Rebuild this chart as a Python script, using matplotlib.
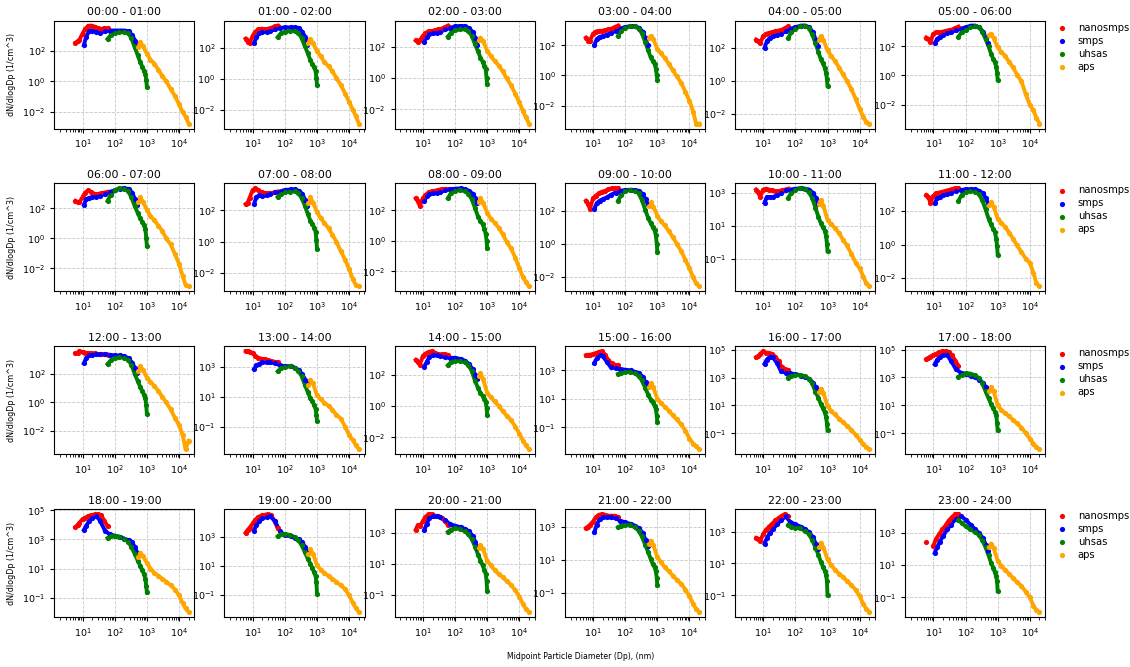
import numpy as np
import matplotlib
matplotlib.use("Agg")
import matplotlib.pyplot as plt
from matplotlib.ticker import NullLocator, LogLocator

nan = np.nan

hours = ["{:02d}:00 - {:02d}:00".format(h, h + 1) for h in range(24)]
instruments = ["nanosmps", "smps", "uhsas", "aps"]
colors = ["red", "blue", "green", "orange"]

# diameters (nm) of the points
nano_dp = [6, 7, 8, 10, 12, 15, 19, 24, 30, 38, 48, 60]
smps_dp = [11, 13, 16, 20, 27, 35, 50, 70, 100, 150, 200, 270, 350, 430, 500]
uhsas_dp = [60, 75, 100, 140, 200, 260, 330, 420, 520, 620, 720, 820, 900, 960, 1000]
aps_dp = [540, 620, 750, 1000, 1300, 1700, 2300, 3000, 4000, 5500, 7500, 10000, 13000, 16000, 20000]

# log10 of dN/dlogDp, one row per hour
nano_log = [
    [2.5, 2.6, 2.7, 3.1, 3.4, 3.6, 3.62, 3.55, 3.45, 3.4, 3.45, 3.45],
    [2.6, 2.4, 2.3, 2.8, 3.05, 3.2, 3.25, 3.2, 3.25, 3.3, 3.4, 3.45],
    [2.4, 2.3, 2.4, 2.7, 2.85, 3.0, 3.0, 3.05, 3.1, 3.15, 3.25, 3.35],
    [2.5, 2.3, 2.3, 2.75, 2.9, 2.95, 2.95, 3.0, 3.05, 3.1, 3.2, 3.3],
    [2.5, 2.4, 2.3, 2.7, 2.85, 2.9, 2.95, 3.0, 3.05, 3.1, 3.2, 3.3],
    [2.6, 2.5, 2.3, 2.85, 2.95, 2.95, 3.0, 3.05, 3.1, 3.15, 3.25, 3.35],
    [2.5, 2.4, 2.4, 2.75, 3.05, 3.2, 3.1, 2.95, 2.95, 3.0, 3.05, 3.1],
    [2.4, 2.5, 2.8, 3.3, 3.4, 3.3, 3.15, 3.1, 3.1, 3.1, 3.15, 3.2],
    [2.8, 2.6, 2.3, 2.8, 3.0, 3.2, 3.25, 3.3, 3.35, 3.4, 3.4, 3.4],
    [2.6, 2.4, 2.1, 2.75, 2.9, 3.05, 3.15, 3.2, 3.3, 3.35, 3.35, 3.35],
    [3.2, 3.05, 2.75, 3.2, 3.25, 3.2, 3.15, 3.1, 3.1, 3.15, 3.2, 3.25],
    [2.95, 2.85, 2.5, 2.9, 3.05, 3.1, 3.15, 3.2, 3.25, 3.3, 3.35, 3.35],
    [3.45, 3.5, 3.6, 3.55, 3.5, 3.45, 3.45, 3.45, 3.4, 3.4, 3.4, 3.35],
    [4.05, 4.05, 4.0, 3.9, 3.75, 3.6, 3.55, 3.5, 3.45, 3.4, 3.35, 3.3],
    [2.95, 2.8, 2.65, 3.2, 3.35, 3.45, 3.5, 3.4, 3.3, 3.3, 3.3, 3.25],
    [4.05, 4.1, 4.1, 4.15, 4.2, 4.3, 4.35, 4.1, 3.7, 3.5, 3.4, 3.35],
    [4.45, 4.55, 4.7, 4.9, 4.8, 4.75, 4.7, 4.5, 4.2, 3.75, 3.6, 3.55],
    [4.3, 4.4, 4.5, 4.6, 4.7, 4.8, 4.88, 4.88, 4.8, 4.6, 4.2, 3.85],
    [3.85, 4.0, 4.15, 4.4, 4.5, 4.6, 4.68, 4.72, 4.75, 4.65, 4.3, 3.9],
    [3.3, 3.5, 3.65, 3.95, 4.2, 4.4, 4.5, 4.55, 4.6, 4.5, 4.1, 3.6],
    [3.2, 3.5, 3.4, 3.75, 4.0, 4.2, 4.2, 4.1, 4.05, 3.95, 3.75, 3.5],
    [2.9, 3.0, 3.1, 3.3, 3.55, 3.7, 3.75, 3.7, 3.65, 3.65, 3.65, 3.55],
    [2.6, 2.55, 2.4, 2.85, 3.1, 3.3, 3.5, 3.7, 3.85, 4.0, 4.1, 3.95],
    [2.45, nan, nan, 2.2, 2.6, 2.9, 3.2, 3.45, 3.75, 3.95, 4.15, 4.15],
]

smps_log = [
    [2.35, 2.9, 3.25, 3.3, 3.2, 3.15, 3.25, 3.3, 3.3, 3.3, 3.3, 3.25, 3.0, 2.65, 2.2],
    [2.3, 2.7, 2.95, 3.05, 3.05, 3.1, 3.2, 3.3, 3.33, 3.33, 3.33, 3.3, 3.05, 2.7, 2.2],
    [2.3, 2.65, 2.8, 2.85, 2.9, 2.95, 3.1, 3.2, 3.3, 3.33, 3.3, 3.2, 2.95, 2.55, 2.1],
    [2.0, 2.4, 2.55, 2.6, 2.7, 2.8, 2.95, 3.1, 3.2, 3.27, 3.25, 3.15, 2.9, 2.45, 2.0],
    [2.0, 2.4, 2.6, 2.7, 2.8, 2.85, 3.0, 3.15, 3.25, 3.35, 3.35, 3.25, 2.95, 2.5, 2.1],
    [2.2, 2.5, 2.65, 2.8, 2.9, 2.95, 3.1, 3.2, 3.3, 3.42, 3.42, 3.3, 3.0, 2.6, 2.2],
    [2.25, 2.6, 2.7, 2.75, 2.78, 2.85, 2.95, 3.1, 3.2, 3.32, 3.33, 3.3, 3.05, 2.6, 2.2],
    [2.4, 2.85, 2.95, 2.9, 2.95, 3.05, 3.15, 3.2, 3.3, 3.33, 3.33, 3.25, 3.05, 2.65, 2.3],
    [2.6, 2.95, 3.05, 3.15, 3.15, 3.2, 3.33, 3.4, 3.43, 3.45, 3.4, 3.3, 3.1, 2.8, 2.5],
    [2.1, 2.45, 2.6, 2.7, 2.8, 2.95, 3.1, 3.2, 3.25, 3.27, 3.25, 3.2, 3.0, 2.7, 2.4],
    [2.4, 2.75, 2.75, 2.75, 2.85, 3.0, 3.15, 3.2, 3.25, 3.27, 3.25, 3.2, 3.0, 2.7, 2.35],
    [2.45, 2.75, 2.85, 2.95, 3.0, 3.1, 3.2, 3.25, 3.3, 3.3, 3.3, 3.2, 3.05, 2.75, 2.45],
    [2.75, 3.1, 3.3, 3.35, 3.4, 3.4, 3.4, 3.35, 3.3, 3.3, 3.25, 3.1, 2.8, 2.4, 2.1],
    [2.85, 3.1, 3.2, 3.3, 3.3, 3.3, 3.25, 3.1, 3.05, 3.05, 2.95, 2.8, 2.5, 2.15, 1.9],
    [2.5, 2.8, 3.15, 3.25, 3.25, 3.2, 3.1, 3.08, 3.08, 3.0, 2.9, 2.7, 2.35, 2.0, 1.7],
    [3.5, 3.85, 4.05, 4.0, 3.6, 3.25, 3.15, 3.1, 3.05, 3.0, 2.9, 2.8, 2.55, 2.15, 1.85],
    [4.0, 4.3, 4.5, 4.45, 4.05, 3.5, 3.35, 3.3, 3.25, 3.15, 3.05, 2.9, 2.65, 2.3, 1.95],
    [3.95, 4.25, 4.5, 4.62, 4.6, 4.2, 3.6, 3.35, 3.25, 3.1, 3.0, 2.85, 2.6, 2.3, 2.0],
    [3.65, 3.95, 4.25, 4.45, 4.6, 4.3, 3.6, 3.35, 3.25, 3.15, 3.05, 2.95, 2.8, 2.45, 2.1],
    [3.45, 3.85, 4.1, 4.3, 4.4, 4.45, 4.1, 3.4, 3.15, 3.05, 2.95, 2.85, 2.65, 2.3, 1.95],
    [3.15, 3.55, 3.95, 4.05, 4.05, 4.0, 3.8, 3.55, 3.45, 3.35, 3.25, 3.1, 2.8, 2.4, 2.0],
    [2.65, 3.1, 3.45, 3.55, 3.55, 3.55, 3.5, 3.35, 3.25, 3.15, 3.05, 2.9, 2.6, 2.2, 1.85],
    [2.25, 2.6, 2.9, 3.15, 3.45, 3.7, 3.95, 3.6, 3.45, 3.3, 3.15, 2.95, 2.65, 2.25, 1.9],
    [1.75, 2.1, 2.45, 2.8, 3.2, 3.5, 3.85, 4.05, 3.8, 3.45, 3.2, 2.95, 2.65, 2.25, 1.9],
]

uhsas_log = [
    [2.75, 3.0, 3.15, 3.2, 3.23, 3.15, 2.8, 2.2, 1.7, 1.25, 0.95, 0.7, 0.5, 0.1, -0.35],
    [2.7, 2.95, 3.05, 3.1, 3.12, 3.0, 2.65, 2.1, 1.65, 1.2, 0.95, 0.75, 0.5, 0.05, -0.4],
    [2.65, 2.9, 3.05, 3.1, 3.12, 3.0, 2.7, 2.15, 1.7, 1.3, 1.05, 0.8, 0.55, 0.0, -0.4],
    [2.6, 2.95, 3.15, 3.25, 3.25, 3.1, 2.8, 2.2, 1.65, 1.2, 0.95, 0.75, 0.45, 0.0, -0.3],
    [2.6, 2.95, 3.15, 3.3, 3.35, 3.2, 2.85, 2.3, 1.75, 1.3, 1.05, 0.8, 0.5, 0.1, -0.3],
    [2.65, 2.95, 3.15, 3.3, 3.36, 3.3, 3.0, 2.5, 2.0, 1.5, 1.15, 0.9, 0.6, 0.2, -0.3],
    [2.5, 2.9, 3.2, 3.33, 3.3, 3.15, 2.75, 2.15, 1.7, 1.35, 1.1, 0.9, 0.6, 0.05, -0.5],
    [2.85, 3.05, 3.15, 3.2, 3.22, 3.1, 2.8, 2.3, 1.75, 1.35, 1.15, 0.9, 0.65, 0.1, -0.45],
    [2.8, 3.15, 3.3, 3.33, 3.3, 3.1, 2.75, 2.15, 1.6, 1.3, 1.1, 0.8, 0.45, 0.0, -0.5],
    [2.6, 2.95, 3.2, 3.25, 3.22, 3.05, 2.65, 2.05, 1.55, 1.25, 1.0, 0.8, 0.5, 0.0, -0.5],
    [2.7, 3.0, 3.2, 3.27, 3.25, 3.05, 2.7, 2.1, 1.55, 1.15, 0.9, 0.7, 0.4, -0.1, -0.55],
    [2.6, 2.95, 3.15, 3.2, 3.15, 3.0, 2.65, 2.1, 1.55, 1.2, 0.95, 0.75, 0.35, -0.1, -0.6],
    [2.7, 2.95, 3.1, 3.18, 3.15, 3.0, 2.65, 2.0, 1.5, 1.1, 0.8, 0.55, 0.3, -0.2, -0.8],
    [2.7, 2.9, 3.0, 3.05, 2.95, 2.75, 2.4, 1.8, 1.3, 0.9, 0.7, 0.45, 0.2, -0.2, -0.6],
    [2.6, 2.8, 2.87, 2.87, 2.8, 2.6, 2.25, 1.6, 1.15, 0.85, 0.65, 0.45, 0.25, -0.1, -0.55],
    [2.75, 2.85, 2.9, 2.88, 2.8, 2.6, 2.3, 1.75, 1.3, 0.95, 0.75, 0.5, 0.3, -0.2, -0.65],
    [3.0, 3.15, 3.22, 3.2, 3.1, 2.9, 2.6, 2.0, 1.55, 1.1, 0.8, 0.5, 0.2, -0.3, -0.8],
    [3.05, 3.2, 3.3, 3.28, 3.15, 2.95, 2.6, 2.0, 1.5, 1.1, 0.8, 0.55, 0.3, -0.3, -0.8],
    [3.1, 3.25, 3.27, 3.2, 3.05, 2.85, 2.5, 2.0, 1.55, 1.2, 0.9, 0.6, 0.3, -0.2, -0.65],
    [3.05, 3.2, 3.22, 3.15, 3.0, 2.8, 2.45, 1.95, 1.5, 1.15, 0.85, 0.55, 0.3, -0.1, -0.95],
    [3.05, 3.2, 3.3, 3.25, 3.1, 2.9, 2.6, 2.1, 1.6, 1.2, 0.9, 0.6, 0.35, -0.1, -0.75],
    [2.95, 3.05, 3.12, 3.1, 2.95, 2.75, 2.4, 1.9, 1.45, 1.05, 0.75, 0.55, 0.3, -0.1, -0.55],
    [3.4, 3.3, 3.25, 3.2, 3.05, 2.85, 2.5, 2.0, 1.55, 1.1, 0.8, 0.55, 0.3, -0.1, -1.0],
    [3.8, 3.6, 3.4, 3.2, 3.05, 2.85, 2.55, 2.1, 1.6, 1.15, 0.85, 0.55, 0.3, 0.0, -0.6],
]

aps_log = [
    [2.2, 2.55, 2.3, 1.8, 1.4, 1.15, 0.75, 0.35, 0.0, -0.5, -0.95, -1.5, -2.0, -2.3, -2.75],
    [2.3, 2.58, 2.3, 1.8, 1.45, 1.1, 0.8, 0.5, 0.05, -0.4, -0.95, -1.5, -2.0, -2.4, -2.9],
    [2.4, 2.58, 2.35, 1.75, 1.4, 1.1, 0.8, 0.45, 0.0, -0.45, -1.0, -1.55, -2.1, -2.5, -2.9],
    [2.45, 2.6, 2.4, 1.75, 1.45, 1.15, 0.75, 0.35, -0.05, -0.5, -1.1, -1.7, -2.4, -3.2, -3.2],
    [2.5, 2.7, 2.45, 1.85, 1.5, 1.2, 0.8, 0.4, 0.0, -0.5, -1.1, -1.7, -2.2, -2.5, -2.6],
    [2.75, 2.85, 2.55, 1.95, 1.6, 1.35, 0.9, 0.55, 0.05, -0.4, -1.3, -2.0, -2.4, -2.9, -3.3],
    [2.4, 2.75, 2.45, 1.9, 1.5, 1.2, 0.85, 0.5, 0.0, -0.4, -1.05, -1.7, -2.5, -3.1, -3.2],
    [2.5, 2.85, 2.5, 1.9, 1.5, 1.2, 0.85, 0.45, 0.0, -0.6, -1.15, -1.75, -2.4, -2.75, -2.85],
    [2.55, 2.8, 2.5, 1.85, 1.45, 1.2, 0.85, 0.45, -0.05, -0.5, -1.1, -1.8, -2.4, -2.7, -3.0],
    [2.3, 2.5, 2.25, 1.7, 1.35, 1.1, 0.75, 0.4, 0.0, -0.45, -1.0, -1.5, -2.05, -2.4, -2.6],
    [2.35, 2.55, 2.2, 1.35, 1.1, 0.85, 0.55, 0.15, -0.2, -0.7, -1.25, -1.6, -2.1, -2.5, -2.7],
    [2.35, 2.55, 2.25, 1.55, 1.3, 1.05, 0.7, 0.35, -0.05, -0.45, -0.85, -1.1, -1.7, -2.3, -2.5],
    [2.2, 2.55, 2.3, 1.75, 1.45, 1.15, 0.8, 0.4, 0.0, -0.5, -1.1, -1.6, -2.3, -3.3, -2.7],
    [1.8, 2.15, 1.9, 1.1, 0.85, 0.6, 0.4, 0.15, -0.2, -0.45, -1.0, -1.55, -1.9, -2.2, -2.5],
    [1.95, 2.1, 1.7, 0.85, 0.55, 0.3, 0.0, -0.3, -0.6, -0.9, -1.3, -1.75, -2.2, -2.5, -2.75],
    [1.85, 2.1, 1.8, 1.0, 0.7, 0.45, 0.15, -0.15, -0.45, -0.8, -1.25, -1.8, -2.15, -2.35, -2.55],
    [1.95, 2.2, 1.9, 0.95, 0.6, 0.35, 0.05, -0.2, -0.45, -0.75, -1.1, -1.45, -1.8, -2.0, -2.15],
    [2.0, 2.3, 2.0, 1.0, 0.65, 0.45, 0.2, -0.05, -0.3, -0.6, -1.0, -1.4, -1.75, -2.0, -2.15],
    [1.8, 2.1, 1.85, 1.4, 1.0, 0.7, 0.5, 0.3, 0.1, -0.15, -0.45, -0.85, -1.4, -1.75, -2.0],
    [1.8, 2.15, 1.85, 1.05, 0.75, 0.5, 0.3, 0.1, -0.1, -0.35, -0.6, -1.05, -1.55, -1.9, -2.2],
    [2.0, 2.2, 1.95, 1.2, 0.9, 0.6, 0.35, 0.15, -0.1, -0.35, -0.7, -1.1, -1.6, -1.9, -2.1],
    [1.95, 2.15, 1.9, 1.15, 0.85, 0.55, 0.3, 0.05, -0.2, -0.45, -0.8, -1.2, -1.65, -1.95, -2.15],
    [2.05, 2.3, 2.0, 1.25, 0.9, 0.6, 0.35, 0.15, -0.1, -0.35, -0.65, -1.05, -1.55, -1.85, -2.05],
    [2.1, 2.33, 2.05, 1.27, 0.95, 0.7, 0.45, 0.2, -0.05, -0.3, -0.65, -1.0, -1.5, -1.8, -1.9],
]

# y tick exponents shown on each panel
ytick_exp = [
    [-2, 0, 2], [-2, 0, 2], [-2, 0, 2], [-2, 0, 2], [-2, 0, 2], [-2, 0, 2],
    [-2, 0, 2], [-2, 0, 2], [-2, 0, 2], [-2, 0, 2], [-1, 1, 3], [-2, 0, 2],
    [-2, 0, 2, 4], [-1, 1, 3], [-2, 0, 2], [-1, 1, 3], [-1, 1, 3, 5], [-1, 1, 3, 5],
    [-1, 1, 3, 5], [-1, 1, 3], [-1, 1, 3], [-1, 1, 3], [-1, 1, 3], [-1, 1, 3],
]

fig, axes = plt.subplots(4, 6, figsize=(11.3, 6.67), dpi=100)
fig.subplots_adjust(left=0.048, right=0.925, top=0.969, bottom=0.075,
                    wspace=0.214, hspace=0.51)

for i, ax in enumerate(axes.flat):
    series = [(nano_dp, nano_log[i]), (smps_dp, smps_log[i]),
              (uhsas_dp, uhsas_log[i]), (aps_dp, aps_log[i])]
    vals = []
    for (dp, lv), name, c in zip(series, instruments, colors):
        y = 10.0 ** np.array(lv, dtype=float)
        ax.plot(dp, y, color=c, lw=2.8, zorder=2)
        ax.scatter(dp, y, s=14, color=c, linewidths=0, label=name, zorder=3)
        vals.extend(lv)
    ax.set_xscale("log")
    ax.set_yscale("log")
    lo, hi = np.nanmin(vals), np.nanmax(vals)
    pad = 0.05 * (hi - lo)
    ax.set_xticks([10, 100, 1000, 10000])
    ax.xaxis.set_minor_locator(LogLocator(base=10, subs=np.arange(2, 10)))
    ax.set_xlim(10 ** 0.12, 10 ** 4.48)
    ax.set_yticks(10.0 ** np.array(ytick_exp[i]))
    ax.yaxis.set_minor_locator(NullLocator())
    ax.set_ylim(10 ** (lo - pad), 10 ** (hi + pad))
    ax.grid(True, which="major", ls="--", lw=0.6, color="#c8c8c8")
    ax.tick_params(labelsize=6.8, length=3)
    ax.tick_params(which="minor", length=1.8)
    ax.set_title(hours[i], fontsize=7.8, pad=4)
    if i % 6 == 0:
        ax.set_ylabel("dN/dlogDp (1/cm^3)", fontsize=5.8)
    if i % 6 == 5:
        ax.legend(loc="upper left", bbox_to_anchor=(1.04, 1.02), frameon=False,
                  fontsize=7.2, handlelength=1.5, labelspacing=0.3,
                  scatterpoints=1, borderaxespad=0)

fig.text(0.514, 0.012, "Midpoint Particle Diameter (Dp), (nm)", ha="center",
         fontsize=5.6)

fig.savefig("out.png", dpi=100)
